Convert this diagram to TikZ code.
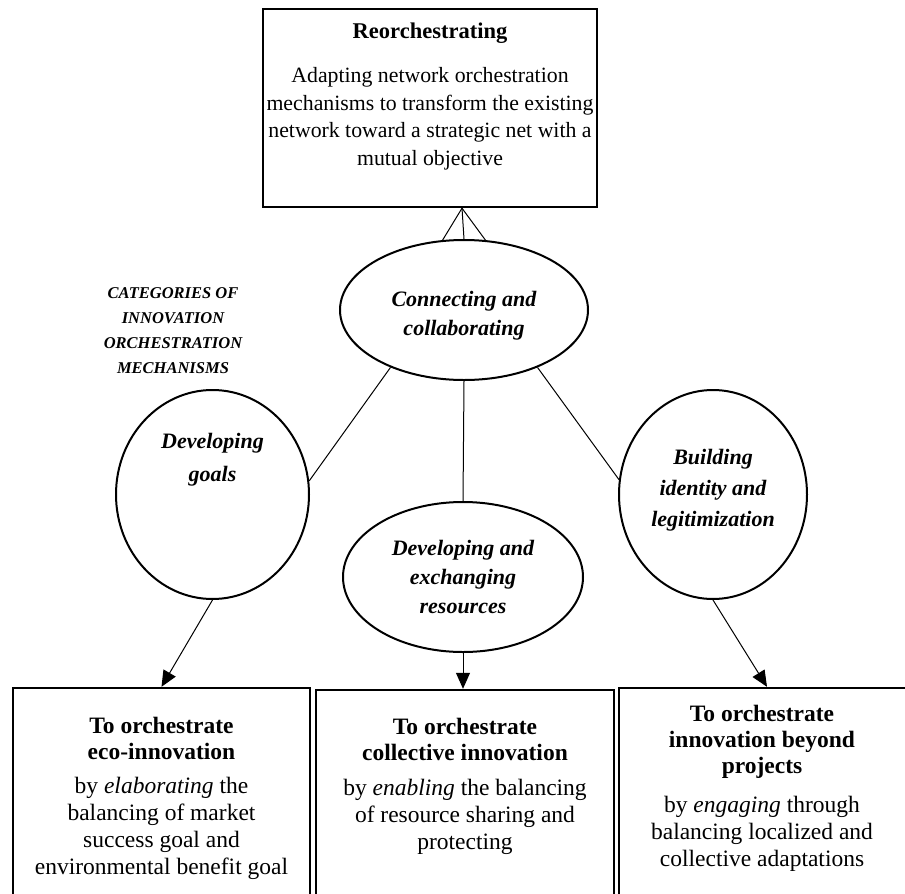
\documentclass[tikz,border=0pt]{standalone}
\usepackage{fontspec}
\setmainfont{Liberation Serif}
\usetikzlibrary{shapes.geometric,arrows.meta}
\begin{document}
\begin{tikzpicture}[x=1pt,y=-1pt,
  box/.style={draw, line width=2.4pt, inner sep=0pt},
  ell/.style={draw, ellipse, line width=2pt, inner sep=0pt},
  ttxt/.style={font=\fontsize{21.8}{27.5}\selectfont, align=center, inner sep=0pt},
  btxt/.style={font=\fontsize{23.5}{27}\selectfont, align=center, inner sep=0pt},
  bhead/.style={font=\fontsize{23.5}{26}\selectfont\bfseries, align=center, inner sep=0pt},
  etxt/.style={font=\fontsize{22}{29}\selectfont\bfseries\itshape, align=center, inner sep=0pt},
  ctxt/.style={font=\fontsize{16.5}{25}\selectfont\bfseries\itshape, align=center, inner sep=0pt},
  link/.style={line width=1pt},
  arr/.style={line width=1pt, -{Triangle[length=16pt,width=14pt]}},
]
\useasboundingbox (0,0) rectangle (905,894);

% top box
\node[box, minimum width=334pt, minimum height=198pt] (top) at (430,108) {};
\node[ttxt, font=\fontsize{22.5}{27}\selectfont\bfseries] (toptitle) at (430,33) {Reorchestrating};
\node[ttxt] (topbody) at (430,119) {Adapting network orchestration\\mechanisms to transform the existing\\network toward a strategic net with a\\mutual objective};

% ellipses
\node[ell, minimum width=248pt, minimum height=140pt] (conn) at (464,310) {};
\node[etxt] (conntxt) at (464,316) {Connecting and\\collaborating};

\node[ell, minimum width=193pt, minimum height=209pt] (dg) at (212.5,494.5) {};
\node[etxt, font=\fontsize{22}{33}\selectfont\bfseries\itshape] (dgtxt) at (212.5,460) {Developing\\goals};

\node[ell, minimum width=240pt, minimum height=150pt] (der) at (463,577) {};
\node[etxt] (dertxt) at (der.center) {Developing and\\exchanging\\resources};

\node[ell, minimum width=188pt, minimum height=209pt] (bil) at (713,494.5) {};
\node[etxt, font=\fontsize{22}{31}\selectfont\bfseries\itshape] (biltxt) at (713,490) {Building\\identity and\\legitimization};

\node[ctxt] (cat) at (173,331) {CATEGORIES OF\\INNOVATION\\ORCHESTRATION\\MECHANISMS};

% top connectors
\coordinate (apex) at ([xshift=32pt]top.south);
\draw[link] (apex) -- (conn.107);
\draw[link] (apex) -- (conn.north);
\draw[link] (apex) -- (conn.73);

% ellipse links
\draw[link] (conn.218) -- (dg.8);
\draw[link] (conn.south) -- (der.north);
\draw[link] (conn.322) -- (bil.171);

% bottom boxes
\node[box, minimum width=297pt, minimum height=240pt] (bl) at (161.5,808) {};
\node[box, minimum width=298pt, minimum height=238pt] (bm) at (465,809) {};
\node[box, minimum width=342pt, minimum height=240pt] (br) at (790,808) {};

\node[bhead] (blh) at (161.5,738) {To orchestrate\\eco-innovation};
\node[btxt] (blb) at (161.5,828) {by \textit{elaborating} the\\balancing of market\\success goal and\\environmental benefit goal};

\node[bhead] (bmh) at (465,739) {To orchestrate\\collective innovation};
\node[btxt] (bmb) at (465,817) {by \textit{enabling} the balancing\\of resource sharing and\\protecting};

\node[bhead] (brh) at (762,742) {To orchestrate\\innovation beyond\\projects};
\node[btxt] (brb) at (762,834) {by \textit{engaging} through\\balancing localized and\\collective adaptations};

% arrows
\draw[arr] (dg.south) -- (bl.north);
\draw[arr] (der.south) -- ([xshift=-2pt]bm.north);
\draw[arr] (bil.south) -- ([xshift=-23pt]br.north);
\end{tikzpicture}
\end{document}
